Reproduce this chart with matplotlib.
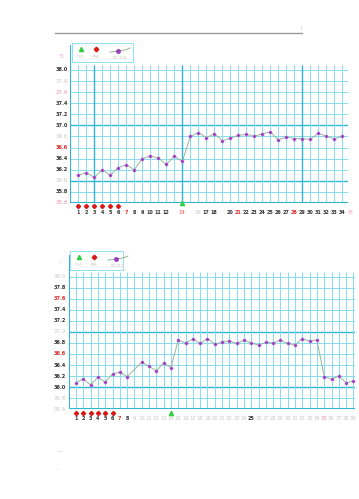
import matplotlib
matplotlib.use('Agg')
import matplotlib.pyplot as plt
from matplotlib.patches import Rectangle
from matplotlib.lines import Line2D

plt.rcParams['font.family'] = ['DejaVu Sans', 'Noto Sans CJK SC']

W, H = 359, 499

# ---- chart 1 ----
days1 = list(range(1, 35))
temps1 = [36.10, 36.15, 36.06, 36.20, 36.10, 36.24, 36.29, 36.20, 36.40, 36.45,
          36.41, 36.30, 36.44, 36.35, 36.80, 36.87, 36.78, 36.85, 36.72, 36.77,
          36.82, 36.84, 36.80, 36.85, 36.88, 36.74, 36.79, 36.76, 36.76, 36.75,
          36.86, 36.80, 36.76, 36.80]
period1 = [1, 2, 3, 4, 5, 6]
ovul1 = 14
xlab1 = ['1', '2', '3', '4', '5', '6', '7', '8', '9', '10', '11', '12', '', '14',
         '', '16', '17', '18', '', '20', '21', '22', '23', '24', '25', '26', '27',
         '28', '29', '30', '31', '32', '33', '34', '天']
xcol1 = ['k'] * 6 + ['r'] + ['k'] * 5 + ['p', 'o', 'p', 'p', 'k', 'k', 'p', 'k', 'r'] \
        + ['k'] * 6 + ['r'] + ['k'] * 6 + ['pr']
ylab1 = ['35.6', '35.8', '36.0', '36.2', '36.4', '36.6', '36.8', '37.0',
         '37.2', '37.4', '37.6', '37.8', '38.0']
ycol1 = ['pr', 'k', 'p', 'k', 'k', 'r', 'p', 'k', 'k', 'k', 'pr', 'p', 'k']

# ---- chart 2 (day 9 not recorded) ----
days2 = [1, 2, 3, 4, 5, 6, 7, 8] + list(range(10, 40))
temps2 = [36.08, 36.15, 36.04, 36.18, 36.09, 36.24, 36.27, 36.19,
          36.45, 36.38, 36.29, 36.44, 36.35, 36.85, 36.80, 36.87, 36.79, 36.88,
          36.78, 36.81, 36.84, 36.79, 36.85, 36.80, 36.76, 36.81, 36.80, 36.85,
          36.79, 36.76, 36.88, 36.83, 36.86, 36.19, 36.15, 36.20, 36.08, 36.11]
period2 = [1, 2, 3, 4, 5, 6]
ovul2 = 14
xlab2 = [str(d) for d in range(1, 40)]
xcol2 = ['k'] * 6 + ['r', 'k'] + ['p'] * 16 + ['k'] + ['p'] * 9 + ['pr'] + ['p'] * 4
ylab2 = ylab1
ycol2 = ['p', 'p', 'k', 'k', 'k', 'r', 'k', 'p', 'k', 'k', 'r', 'k', 'p']

COL = {'k': '#333333', 'r': '#e02828', 'p': '#dcdcdc', 'pr': '#f2b8c8', 'o': '#f08a8a'}
THIN = '#7fdaec'
THICK = '#30b4d8'
LINE = '#93b793'
DOT = '#9b3dc0'

fig = plt.figure(figsize=(W / 100, H / 100), dpi=100)


def fx(x):
    return x / W


def fy(y):
    return 1 - y / H


def panel(left, right, top, bottom, ymax, xmax, days, temps, period, ovul,
          xlab, xcol, ylab, ycol, thick_days, ndays, red_y, green_y):
    ax = fig.add_axes([fx(left), fy(bottom), fx(right - left), (bottom - top) / H])
    ax.set_xlim(0, xmax)
    ax.set_ylim(35.6, ymax)
    for s in ['top', 'right', 'bottom', 'left']:
        ax.spines[s].set_visible(False)
    ax.set_xticks([])
    ax.set_yticks([])
    ax.set_facecolor('none')
    # grid
    for lab in ylab:
        thick = lab in ('36.0', '37.0')
        ax.axhline(float(lab), color=THICK if thick else THIN,
                   lw=1.0 if thick else 0.65, zorder=1)
    for d in range(1, ndays + 1):
        thick = d in thick_days
        ax.vlines(d, 35.6, 38.09, color=THICK if thick else THIN,
                  lw=1.0 if thick else 0.65, zorder=1)
    ax.axhline(35.6, color=THICK, lw=1.5, zorder=2)
    ax.axvline(0, color=THICK, lw=1.5, zorder=2)
    # data
    ax.plot(days, temps, color=LINE, lw=0.7, zorder=3)
    ax.plot(days, temps, 'o', color=DOT, ms=2.3, mec='#c070e0', mew=0.3, zorder=4)
    # markers below axis
    ax.plot(period, [red_y] * len(period), marker='D', ls='none', color='#d81818',
            ms=2.1, clip_on=False, zorder=5)
    ax.plot([ovul], [green_y], marker='^', ls='none', color='#30d040', ms=3.0,
            clip_on=False, zorder=5)
    # labels
    tr = ax.get_yaxis_transform()
    for lab, c in zip(ylab, ycol):
        ax.text(-0.009, float(lab), lab, transform=tr, ha='right', va='center',
                fontsize=3.6, color=COL[c], fontweight='bold')
    trx = ax.get_xaxis_transform()
    for i, (lab, c) in enumerate(zip(xlab, xcol)):
        ax.text(i + 1, -0.058, lab, transform=trx, ha='center', va='center',
                fontsize=3.5, color=COL[c], fontweight='semibold')
    return ax


panel(70.3, 348, 45, 203, 38.45, 34.71, days1, temps1, period1, ovul1,
      xlab1, xcol1, ylab1, ycol1, [3, 14, 29], 34, 35.545, 35.6)
panel(68.7, 354.5, 255, 409.3, 38.39, 39.15, days2, temps2, period2, ovul2,
      xlab2, xcol2, ylab2, ycol2, [], 39, 35.54, 35.535)

# unit labels
fig.text(fx(62), fy(57), '°C', fontsize=4, color='#e0a0d0', ha='center', va='center')
fig.text(fx(61), fy(263), '°C', fontsize=4, color='#e8e8e8', ha='center', va='center')


def legend(x0, y0, w, h):
    fig.patches.append(Rectangle((fx(x0), fy(y0 + h)), w / W, h / H,
                                 transform=fig.transFigure, fill=False,
                                 edgecolor='#8fe0f0', lw=0.7))
    fig.lines.append(Line2D([fx(x0 + 9)], [fy(y0 + 6)], marker='^', color='#30d040',
                            ms=3, transform=fig.transFigure))
    fig.lines.append(Line2D([fx(x0 + 24)], [fy(y0 + 6)], marker='D', color='#d81818',
                            ms=2.3, transform=fig.transFigure))
    fig.lines.append(Line2D([fx(x0 + 38), fx(x0 + 46), fx(x0 + 53), fx(x0 + 58)],
                            [fy(y0 + 9), fy(y0 + 8), fy(y0 + 7), fy(y0 + 5)],
                            color=LINE, lw=0.7, transform=fig.transFigure))
    fig.lines.append(Line2D([fx(x0 + 46)], [fy(y0 + 8)], marker='o', color=DOT,
                            ms=2.5, transform=fig.transFigure))
    for tx, t in [(9, '排卵'), (24, '月经'), (48, '基础体温')]:
        fig.text(fx(x0 + tx), fy(y0 + 14), t, fontsize=2.8, color='#dddddd',
                 ha='center', va='center',
                 family=['Noto Sans CJK SC', 'DejaVu Sans'])


legend(72, 43, 61, 19)
legend(70, 251, 53, 19)

# header rule and stray marks
fig.lines.append(Line2D([fx(55), fx(302)], [fy(33), fy(33)], color='#999999', lw=1.0,
                        transform=fig.transFigure))
fig.lines.append(Line2D([fx(301), fx(301)], [fy(26), fy(30)], color='#dddddd', lw=0.6,
                        transform=fig.transFigure))
fig.text(fx(59), fy(452), '—', fontsize=4, color='#bbbbbb', ha='center', va='center')
fig.text(fx(57), fy(469), '.', fontsize=4, color='#999999', ha='center', va='center')

fig.savefig('out.png', dpi=100, facecolor='white')
